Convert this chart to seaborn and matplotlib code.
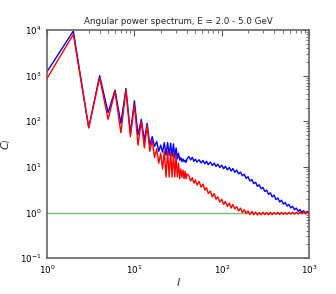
import numpy as np
import pandas as pd
import matplotlib
matplotlib.use("Agg")
import matplotlib.pyplot as plt
import seaborn as sns

# ================= DATA =================
# low multipoles, one value per l
ell_lo = [1, 2, 3, 4, 5, 6, 7, 8, 9, 10, 11, 12, 13, 14, 15, 16, 17, 18, 19, 20,
          21, 22, 23, 24, 25, 26, 27, 28, 29, 30, 31, 32, 33, 34, 35, 36, 37, 38, 39, 40]
blue_lo = [1220, 9500, 72, 1000, 155, 480, 90, 520, 55, 280, 50, 110, 38, 90, 30, 46, 28, 36, 22, 30,
           21, 34, 18, 34, 18, 33, 17, 32, 16, 26, 15, 20, 14, 16, 13, 15, 13, 14, 12.5, 15]
red_lo = [870, 8000, 72, 900, 110, 450, 56, 480, 46, 230, 30, 100, 26, 80, 22, 38, 16, 25, 12, 20,
          9, 22, 6, 22, 6, 21, 6, 20, 6, 18, 6, 12, 5.5, 9, 6, 8.5, 5.5, 8, 5.5, 7]

# higher multipoles, sampled
ell_hi = [42, 44, 46, 48, 50, 52, 55, 58, 61, 64, 67, 70, 74, 78, 82, 86, 90, 95, 100, 105,
          110, 116, 122, 128, 134, 141, 148, 156, 164, 172, 181, 190, 200, 210, 221, 232, 244, 256, 269, 282,
          296, 311, 327, 343, 360, 378, 397, 417, 438, 460, 483, 507, 532, 559, 587, 616, 647, 679, 713, 749,
          786, 825, 866, 909, 954, 1000]
blue_hi = [16.8, 14.2, 16.2, 13.2, 14.8, 12.7, 14.3, 12.2, 13.8, 11.7, 13.3, 11.2, 12.8, 10.7, 12.1, 10.2, 11.5, 9.7, 10.9, 9.1,
           10.3, 8.6, 9.7, 8.1, 9.2, 7.6, 8.5, 7.0, 7.7, 6.4, 6.9, 5.6, 6.1, 4.9, 5.3, 4.3, 4.6, 3.75, 4.05, 3.3,
           3.55, 2.9, 3.1, 2.5, 2.7, 2.2, 2.4, 1.92, 2.08, 1.7, 1.86, 1.52, 1.66, 1.38, 1.5, 1.26, 1.37, 1.15, 1.25, 1.06,
           1.16, 1.0, 1.1, 0.97, 1.06, 0.98]
red_hi = [6.5, 4.9, 5.8, 4.4, 5.2, 4.0, 4.8, 3.6, 4.2, 3.1, 3.5, 2.6, 2.95, 2.2, 2.6, 1.95, 2.2, 1.7, 1.95, 1.5,
          1.75, 1.35, 1.6, 1.25, 1.5, 1.2, 1.35, 1.08, 1.25, 1.0, 1.15, 0.95, 1.08, 0.9, 1.06, 0.89, 1.02, 0.88, 1.0, 0.89,
          1.01, 0.9, 1.0, 0.89, 1.01, 0.9, 1.0, 0.91, 1.01, 0.9, 1.01, 0.91, 1.0, 0.91, 1.01, 0.92, 1.01, 0.92, 1.01, 0.93,
          1.02, 0.94, 1.02, 0.94, 1.02, 0.97]

noise_level = 1.0

ell = ell_lo + ell_hi
df = pd.DataFrame({"l": ell, "blue": blue_lo + blue_hi, "red": red_lo + red_hi})

# ================= PLOT =================
sns.set_style("white")
plt.rcParams["font.family"] = ["DejaVu Sans"]
plt.rcParams["mathtext.fontset"] = "dejavusans"

fig = plt.figure(figsize=(3.36, 2.94), dpi=100)
ax = fig.add_axes([0.140, 0.122, 0.780, 0.776])

ax.axhline(noise_level, color="#70c070", lw=1.0, zorder=1)
sns.lineplot(data=df, x="l", y="blue", color="b", lw=1.0, ax=ax, zorder=2)
sns.lineplot(data=df, x="l", y="red", color="r", lw=1.0, ax=ax, zorder=3)

ax.set_xscale("log")
ax.set_yscale("log")
ax.set_xlim(1, 1000)
ax.set_ylim(0.1, 1e4)

ax.set_title("Angular power spectrum, E = 2.0 - 5.0 GeV", fontsize=6.3, pad=4)
ax.set_xlabel("$l$", fontsize=8, labelpad=0)
ax.set_ylabel("$C_l$", fontsize=8, labelpad=5)

ax.tick_params(which="both", direction="in", top=True, right=True, colors="#555555",
               labelcolor="black", labelsize=6.3, pad=4)
ax.tick_params(which="major", length=4, width=0.8)
ax.tick_params(which="minor", length=2, width=0.6)
for s in ax.spines.values():
    s.set_color("#666666")
    s.set_linewidth(1.2)

fig.savefig("out.png", dpi=100)
plt.close()
